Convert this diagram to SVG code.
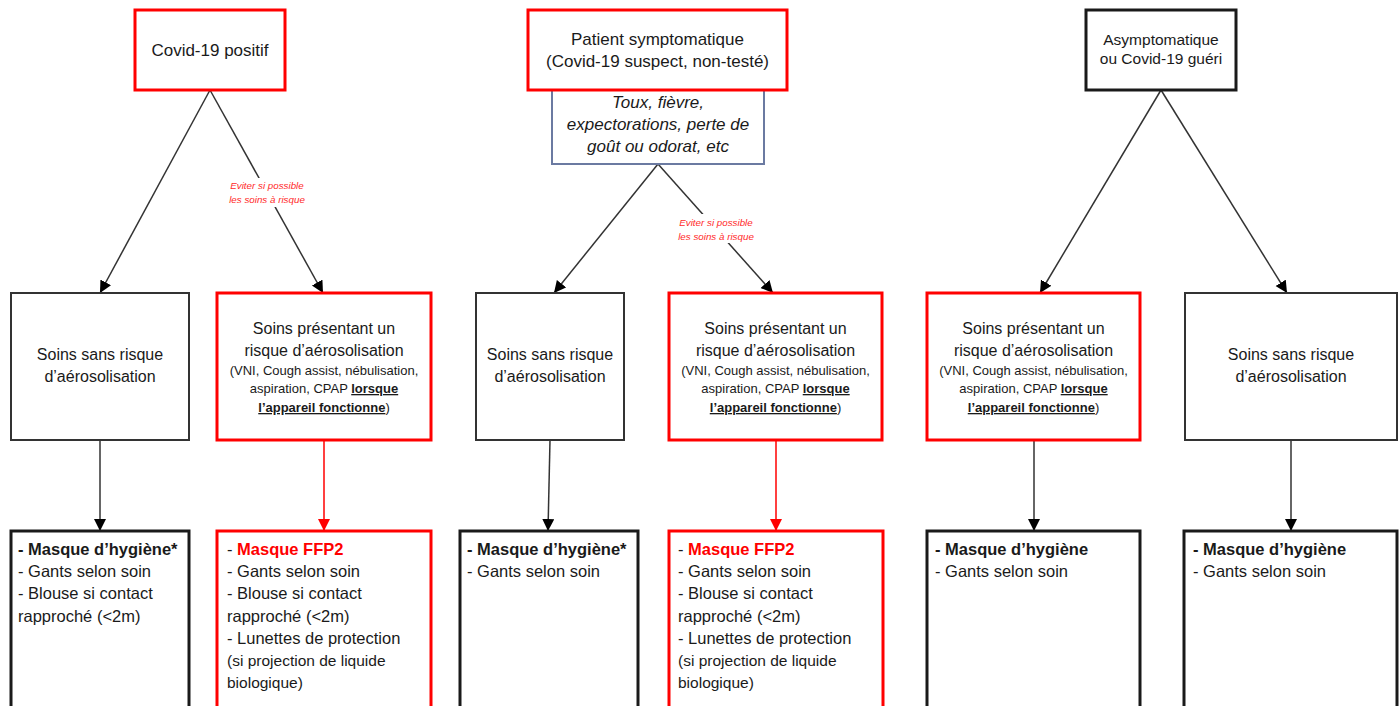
<svg xmlns="http://www.w3.org/2000/svg" width="1400" height="706" viewBox="0 0 1400 706">
<style>
text{font-family:"Liberation Sans",Arial,sans-serif;fill:#1a1a1a}
.c{text-anchor:middle}
.t16{font-size:16px}
.t17{font-size:17px}
.bt{font-size:16.5px}
.t13{font-size:13px}
.it{font-style:italic}
.b{font-weight:bold}
.u{text-decoration:underline}
.redbox{fill:#fff;stroke:#ff0000;stroke-width:3}
.blkbox{fill:#fff;stroke:#1a1a1a;stroke-width:3}
.midbox{fill:#fff;stroke:#333;stroke-width:2}
.bluebox{fill:#fff;stroke:#6b7aa1;stroke-width:2}
.conn{fill:none;stroke:#333;stroke-width:1.5}
.connr{fill:none;stroke:#ff0000;stroke-width:1.5}
.lbl{font-size:9.8px;font-style:italic;fill:#ff2a2a;text-anchor:middle}
.red{fill:#ff0000}
</style>
<defs>
<marker id="ah" markerUnits="userSpaceOnUse" markerWidth="14" markerHeight="14" refX="12" refY="6" orient="auto">
<path d="M0,0 L12,6 L0,12 Z" fill="#000"/>
</marker>
<marker id="ahr" markerUnits="userSpaceOnUse" markerWidth="14" markerHeight="14" refX="12" refY="6" orient="auto">
<path d="M0,0 L12,6 L0,12 Z" fill="#ff0000"/>
</marker>
</defs>
<rect width="1400" height="706" fill="#fff"/>

<g id="connectors">
<path class="conn" d="M210,90 L100,293" marker-end="url(#ah)"/>
<path class="conn" d="M210,90 L323,293" marker-end="url(#ah)"/>
<path class="conn" d="M658,164 L554,293" marker-end="url(#ah)"/>
<path class="conn" d="M658,164 L773,293" marker-end="url(#ah)"/>
<path class="conn" d="M1161,90 L1040,293" marker-end="url(#ah)"/>
<path class="conn" d="M1161,90 L1287,293" marker-end="url(#ah)"/>
<path class="conn" d="M100,440 L100,531" marker-end="url(#ah)"/>
<path class="connr" d="M324,440 L324,531" marker-end="url(#ahr)"/>
<path class="conn" d="M550,440 L548,531" marker-end="url(#ah)"/>
<path class="connr" d="M776,440 L776,531" marker-end="url(#ahr)"/>
<path class="conn" d="M1034,440 L1034,531" marker-end="url(#ah)"/>
<path class="conn" d="M1291,440 L1291,531" marker-end="url(#ah)"/>
<g id="label1">
<rect x="228" y="178" width="78" height="29" fill="#fff"/>
<text class="lbl" x="267" y="189">Eviter si possible</text>
<text class="lbl" x="267" y="203">les soins à risque</text>
</g>
<g id="label2">
<rect x="677" y="214" width="78" height="29" fill="#fff"/>
<text class="lbl" x="716" y="226">Eviter si possible</text>
<text class="lbl" x="716" y="240">les soins à risque</text>
</g>
</g>

<g id="top1">
<rect class="redbox" x="135" y="10" width="150" height="80"/>
<text class="c t17" x="210" y="56">Covid-19 positif</text>
</g>
<g id="top2">
<rect class="bluebox" x="552" y="90" width="212" height="74"/>
<rect class="redbox" x="528" y="10" width="259" height="80"/>
<text class="c t17" x="657.5" y="45">Patient symptomatique</text>
<text class="c t17" x="657.5" y="67">(Covid-19 suspect, non-testé)</text>
<text class="c t17 it" x="658" y="108">Toux, fièvre,</text>
<text class="c t17 it" x="658" y="130">expectorations, perte de</text>
<text class="c t17 it" x="658" y="152">goût ou odorat, etc</text>
</g>
<g id="top3">
<rect class="blkbox" x="1086" y="10" width="150" height="80"/>
<text class="c" style="font-size:15.5px" x="1161" y="45">Asymptomatique</text>
<text class="c" style="font-size:15.5px" x="1161" y="64">ou Covid-19 guéri</text>
</g>

<g id="midA">
<rect class="midbox" x="11" y="293" width="178" height="147"/>
<text class="c t16" x="100" y="360">Soins sans risque</text>
<text class="c t16" x="100" y="382">d’aérosolisation</text>
</g>
<g id="midB">
<rect class="redbox" x="217" y="293" width="214" height="147"/>
<text class="c t16" x="324" y="334">Soins présentant un</text>
<text class="c t16" x="324" y="356">risque d’aérosolisation</text>
<text class="c t13" x="324" y="375">(VNI, Cough assist, nébulisation,</text>
<text class="c t13" x="324" y="393">aspiration, CPAP <tspan class="b u">lorsque</tspan></text>
<text class="c t13" x="324" y="412"><tspan class="b u">l’appareil fonctionne</tspan>)</text>
</g>
<g id="midC">
<rect class="midbox" x="476" y="293" width="148" height="147"/>
<text class="c t16" x="550" y="360">Soins sans risque</text>
<text class="c t16" x="550" y="382">d’aérosolisation</text>
</g>
<g id="midD">
<rect class="redbox" x="669" y="293" width="213" height="147"/>
<text class="c t16" x="775.5" y="334">Soins présentant un</text>
<text class="c t16" x="775.5" y="356">risque d’aérosolisation</text>
<text class="c t13" x="775.5" y="375">(VNI, Cough assist, nébulisation,</text>
<text class="c t13" x="775.5" y="393">aspiration, CPAP <tspan class="b u">lorsque</tspan></text>
<text class="c t13" x="775.5" y="412"><tspan class="b u">l’appareil fonctionne</tspan>)</text>
</g>
<g id="midE">
<rect class="redbox" x="927" y="293" width="213" height="147"/>
<text class="c t16" x="1033.5" y="334">Soins présentant un</text>
<text class="c t16" x="1033.5" y="356">risque d’aérosolisation</text>
<text class="c t13" x="1033.5" y="375">(VNI, Cough assist, nébulisation,</text>
<text class="c t13" x="1033.5" y="393">aspiration, CPAP <tspan class="b u">lorsque</tspan></text>
<text class="c t13" x="1033.5" y="412"><tspan class="b u">l’appareil fonctionne</tspan>)</text>
</g>
<g id="midF">
<rect class="midbox" x="1185" y="293" width="212" height="147"/>
<text class="c t16" x="1291" y="360">Soins sans risque</text>
<text class="c t16" x="1291" y="382">d’aérosolisation</text>
</g>

<g id="botG">
<rect class="blkbox" x="11" y="531" width="178" height="190"/>
<text class="bt b" x="18" y="555">- Masque d’hygiène*</text>
<text class="bt" x="18" y="577">- Gants selon soin</text>
<text class="bt" x="18" y="599">- Blouse si contact</text>
<text class="bt" x="18" y="622">rapproché (&lt;2m)</text>
</g>
<g id="botH">
<rect class="redbox" x="217" y="531" width="214" height="190"/>
<text class="bt" x="227" y="555">- <tspan class="b red">Masque FFP2</tspan></text>
<text class="bt" x="227" y="577">- Gants selon soin</text>
<text class="bt" x="227" y="599">- Blouse si contact</text>
<text class="bt" x="227" y="622">rapproché (&lt;2m)</text>
<text class="bt" x="227" y="644">- Lunettes de protection</text>
<text style="font-size:15.5px" x="227" y="666">(si projection de liquide</text>
<text style="font-size:15.5px" x="227" y="688">biologique)</text>
</g>
<g id="botI">
<rect class="blkbox" x="460" y="531" width="178" height="190"/>
<text class="bt b" x="467" y="555">- Masque d’hygiène*</text>
<text class="bt" x="467" y="577">- Gants selon soin</text>
</g>
<g id="botJ">
<rect class="redbox" x="669" y="531" width="214" height="190"/>
<text class="bt" x="678" y="555">- <tspan class="b red">Masque FFP2</tspan></text>
<text class="bt" x="678" y="577">- Gants selon soin</text>
<text class="bt" x="678" y="599">- Blouse si contact</text>
<text class="bt" x="678" y="622">rapproché (&lt;2m)</text>
<text class="bt" x="678" y="644">- Lunettes de protection</text>
<text style="font-size:15.5px" x="678" y="666">(si projection de liquide</text>
<text style="font-size:15.5px" x="678" y="688">biologique)</text>
</g>
<g id="botK">
<rect class="blkbox" x="927" y="531" width="213" height="190"/>
<text class="bt b" x="935" y="555">- Masque d’hygiène</text>
<text class="bt" x="935" y="577">- Gants selon soin</text>
</g>
<g id="botL">
<rect class="blkbox" x="1184" y="531" width="213" height="190"/>
<text class="bt b" x="1193" y="555">- Masque d’hygiène</text>
<text class="bt" x="1193" y="577">- Gants selon soin</text>
</g>
</svg>
